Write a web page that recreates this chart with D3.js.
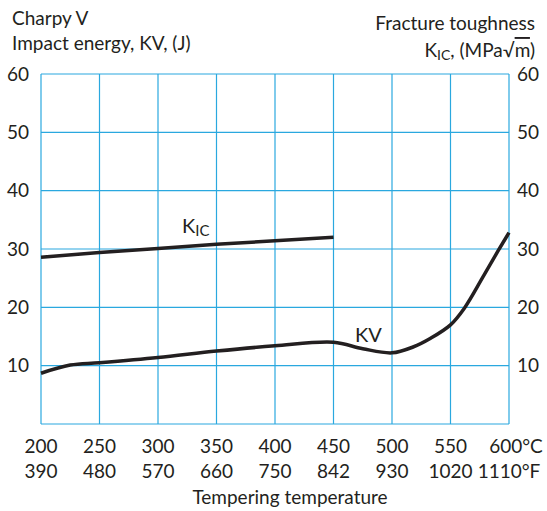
<!DOCTYPE html>
<html>
<head>
<meta charset="utf-8">
<script src="https://cdn.jsdelivr.net/npm/d3@7"></script>
<style>
  body { margin: 0; background: #fff; }
  text { font-family: Lato, "Open Sans", sans-serif; fill: #231f20; }
</style>
</head>
<body>
<div id="chart"></div>
<script>
// tempering temperature (°C) and matching °F labels
const tempC = [200, 250, 300, 350, 400, 450, 500, 550, 600];
const tempF = ["390", "480", "570", "660", "750", "842", "930", "1020", "1110°F"];
const yTicks = [10, 20, 30, 40, 50, 60];

// Charpy V impact energy KV (J)
const kvTemp = [200, 225, 250, 300, 350, 400, 450, 475, 500, 518, 533, 550, 562, 578, 591, 600];
const kvVal  = [8.7, 10.1, 10.5, 11.4, 12.5, 13.4, 14.0, 12.9, 12.2, 13.2, 14.7, 17.0, 19.9, 25.3, 29.8, 32.8];

// fracture toughness KIC (MPa√m)
const kicTemp = [200, 250, 300, 350, 400, 450];
const kicVal  = [28.6, 29.4, 30.1, 30.8, 31.4, 32.0];

const width = 547, height = 511;
const margin = { top: 74, right: 38, bottom: 87, left: 41 };
const blue = "#2aa8df";
const fs = 19;

const svg = d3.select("#chart").append("svg")
    .attr("width", width)
    .attr("height", height);

const x = d3.scaleLinear().domain([200, 600]).range([margin.left, width - margin.right]);
const y = d3.scaleLinear().domain([0, 60]).range([height - margin.bottom, margin.top]);

// grid
const grid = svg.append("g").attr("stroke", blue).attr("stroke-width", 1.2);
grid.selectAll(".v").data(tempC).join("line")
    .attr("x1", d => x(d)).attr("x2", d => x(d))
    .attr("y1", y(0)).attr("y2", y(60));
grid.selectAll(".h").data([0, ...yTicks]).join("line")
    .attr("x1", x(200)).attr("x2", x(600))
    .attr("y1", d => y(d)).attr("y2", d => y(d));

// left + right y labels
svg.append("g").selectAll("text").data(yTicks).join("text")
    .attr("x", 29).attr("y", d => y(d)).attr("dy", "0.35em")
    .attr("text-anchor", "end").attr("font-size", fs)
    .text(d => d);
svg.append("g").selectAll("text").data(yTicks).join("text")
    .attr("x", 517).attr("y", d => y(d)).attr("dy", "0.35em")
    .attr("font-size", fs)
    .text(d => d);

// x labels
svg.append("g").selectAll("text").data(tempC).join("text")
    .attr("x", (d, i) => x(d) + (i === tempC.length - 1 ? 7 : 0))
    .attr("y", 453)
    .attr("text-anchor", "middle").attr("font-size", fs)
    .text((d, i) => i === tempC.length - 1 ? d + "°C" : d);
svg.append("g").selectAll("text").data(tempF).join("text")
    .attr("x", (d, i) => x(tempC[i]))
    .attr("y", 478)
    .attr("text-anchor", "middle").attr("font-size", fs)
    .text(d => d);

svg.append("text").attr("x", 290).attr("y", 504)
    .attr("text-anchor", "middle").attr("font-size", fs)
    .text("Tempering temperature");

// titles
svg.append("text").attr("x", 12).attr("y", 25).attr("font-size", fs).text("Charpy V");
svg.append("text").attr("x", 12).attr("y", 50).attr("font-size", fs).text("Impact energy, KV, (J)");

svg.append("text").attr("x", 535).attr("y", 30).attr("font-size", fs)
    .attr("text-anchor", "end").text("Fracture toughness");
const t2 = svg.append("text").attr("x", 535).attr("y", 57).attr("font-size", fs)
    .attr("text-anchor", "end");
t2.append("tspan").text("K");
t2.append("tspan").attr("font-size", 14).attr("dy", 3).text("IC");
t2.append("tspan").attr("dy", -3).text(", (MPa√");
t2.append("tspan").style("text-decoration", "overline").text("m");
t2.append("tspan").text(")");

// curves
const line = d3.line().curve(d3.curveCatmullRom.alpha(0.5))
    .x(d => x(d[0])).y(d => y(d[1]));

svg.append("path")
    .datum(d3.zip(kvTemp, kvVal))
    .attr("fill", "none").attr("stroke", "#231f20").attr("stroke-width", 3.5)
    .attr("d", line);

svg.append("path")
    .datum(d3.zip(kicTemp, kicVal))
    .attr("fill", "none").attr("stroke", "#231f20").attr("stroke-width", 3.5)
    .attr("d", d3.line().x(d => x(d[0])).y(d => y(d[1])));

// curve labels
const kic = svg.append("text").attr("x", 182).attr("y", 233).attr("font-size", 20);
kic.append("tspan").text("K");
kic.append("tspan").attr("font-size", 15).attr("dy", 3).text("IC");

svg.append("text").attr("x", 355).attr("y", 342).attr("font-size", 20).text("KV");
</script>
</body>
</html>
